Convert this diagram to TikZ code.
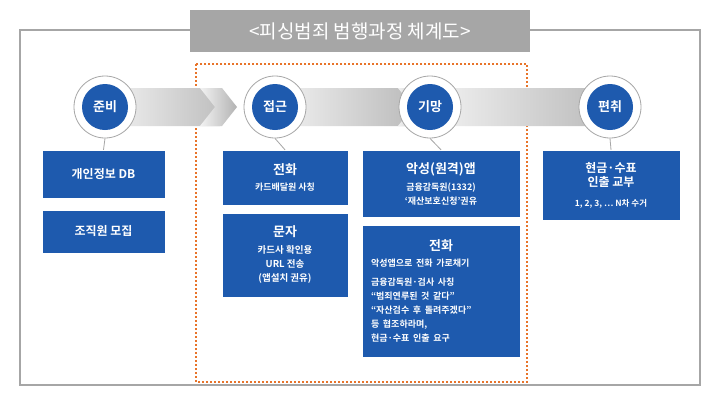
\documentclass[tikz,border=0pt]{standalone}
\usepackage{fontspec}
\setmainfont{Noto Sans CJK KR Bold}
\newfontfamily\titlefont{Noto Sans CJK KR}
\usetikzlibrary{shadings}
\definecolor{stepblue}{HTML}{1E5AAE}
\definecolor{framegray}{HTML}{A6A6A6}
\definecolor{dotorange}{HTML}{E8742A}
\tikzset{
  stagebox/.style={fill=stepblue,draw=white,text=white,font=\fontsize{11}{14}\selectfont,align=center,inner sep=2pt},
  stagedot/.style={circle,fill=stepblue,minimum size=46pt,text=white,font=\fontsize{13}{15}\selectfont},
  stagering/.style={circle,draw=gray!70,fill=white,line width=.8pt,minimum size=62pt},
  stem/.style={gray!70,line width=.8pt}
}
\begin{document}
\begin{tikzpicture}[x=1pt,y=-1pt]
  \useasboundingbox (0,0) rectangle (720,405);
  \fill[white] (0,0) rectangle (720,405);
  % frame and title
  \draw[framegray,line width=2pt] (20,30) rectangle (700,385);
  \node[fill=framegray,minimum width=340pt,minimum height=42pt,text=white,font=\titlefont\fontsize{19}{21}\selectfont] (title) at (360,31) {<피싱범죄 범행과정 체계도>};
  \draw[dotorange,line width=2pt,dotted] (196,64) rectangle (527,382);
  % chevron band
  \foreach \xa/\xb in {105/235,275/420,430/615}{
    \shade[left color=gray!10,right color=gray!55] (\xa,88) -- (\xb-15,88) -- (\xb,107) -- (\xb-15,126) -- (\xa,126) -- cycle;
  }
  \shade[left color=gray!10,right color=gray!60] (200,88) -- (222,88) -- (237,107) -- (222,126) -- (200,126) -- (215,107) -- cycle;
  \shade[left color=gray!10,right color=gray!60] (398,88) -- (405,88) -- (420,107) -- (405,126) -- (398,126) -- (413,107) -- cycle;
  \shade[left color=gray!10,right color=gray!60] (590,88) -- (600,88) -- (615,107) -- (600,126) -- (590,126) -- (605,107) -- cycle;
  % stages
  \foreach \name/\x/\lbl in {prep/105/준비,appr/275/접근,decv/430/기망,frad/610/편취}{
    \node[stagering] (\name-ring) at (\x,107) {};
    \node[stagedot] (\name) at (\x,107) {\lbl};
  }
  % boxes
  \node[stagebox,minimum width=123pt,minimum height=48pt,font=\fontsize{12}{14}\selectfont] (db) at (103.5,174) {개인정보 DB};
  \node[stagebox,minimum width=123pt,minimum height=43pt,font=\fontsize{12}{14}\selectfont] (crew) at (103.5,231.5) {조직원 모집};
  \node[stagebox,minimum width=126pt,minimum height=55pt] (call) at (285,177.5) {{\fontsize{13}{16}\selectfont 전화}\\[2pt]{\fontsize{9}{11}\selectfont 카드배달원 사칭}};
  \node[stagebox,minimum width=126pt,minimum height=84pt] (sms) at (285,255) {{\fontsize{13}{16}\selectfont 문자}\\[3pt]{\fontsize{9.5}{12}\selectfont 카드사 확인용}\\{\fontsize{9.5}{12}\selectfont URL 전송}\\{\fontsize{9.5}{12}\selectfont (앱설치 권유)}};
  \node[stagebox,minimum width=158pt,minimum height=67pt] (app) at (441,183.5) {{\fontsize{13}{16}\selectfont 악성(원격)앱}\\[3pt]{\fontsize{9}{11}\selectfont 금융감독원(1332)}\\{\fontsize{9}{11}\selectfont ‘재산보호신청’권유}};
  \node[stagebox,minimum width=158pt,minimum height=132pt,text width=140pt,align=left] (hijack) at (441,291) {\makebox[140pt]{\fontsize{13}{16}\selectfont 전화}\\[2pt]{\fontsize{9}{11}\selectfont 악성앱으로 전화 가로채기}\\[5pt]{\fontsize{9}{12}\selectfont 금융감독원·검사 사칭}\\{\fontsize{9}{12}\selectfont “범죄연루된 것 같다”}\\{\fontsize{9}{12}\selectfont “자산검수 후 돌려주겠다”}\\{\fontsize{9}{12}\selectfont 등 협조하라며,}\\{\fontsize{9}{12}\selectfont 현금·수표 인출 요구}};
  \node[stagebox,minimum width=138pt,minimum height=70pt] (cash) at (611,185) {{\fontsize{12}{15}\selectfont 현금·수표}\\{\fontsize{12}{15}\selectfont 인출 교부}\\[6pt]{\fontsize{8.5}{10}\selectfont 1, 2, 3, … N차 수거}};
  % stems
  \draw[stem] (prep-ring.south) -- (db.north);
  \draw[stem] (appr-ring.south) -- (call.north);
  \draw[stem] (decv-ring.south) -- (app.north);
  \draw[stem] (frad-ring.south) -- (cash.north);
\end{tikzpicture}
\end{document}
